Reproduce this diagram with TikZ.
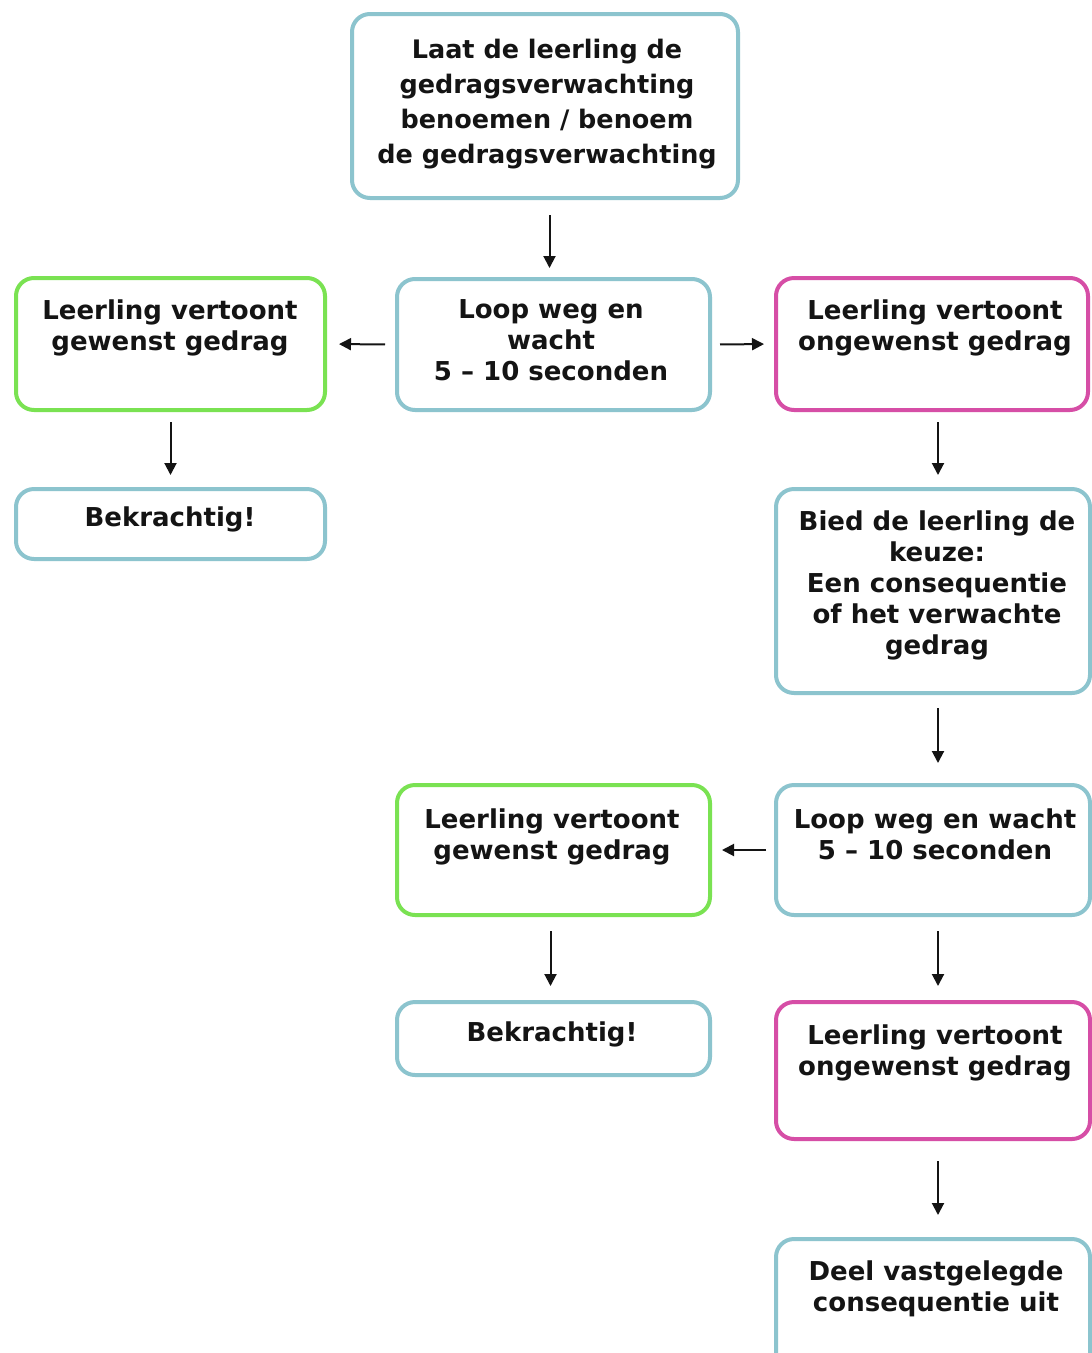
\documentclass[tikz,border=0pt]{standalone}
\usepackage{fontspec}
\setmainfont{DejaVu Sans}
\usetikzlibrary{arrows.meta}
\definecolor{tealb}{RGB}{140,196,206}
\definecolor{greenb}{RGB}{122,226,82}
\definecolor{magb}{RGB}{214,78,166}
\definecolor{ink}{RGB}{20,20,20}
\tikzset{
  box/.style={draw, rounded corners=18pt, line width=4pt, inner sep=0pt, fill=white},
  tealbox/.style={box, draw=tealb},
  greenbox/.style={box, draw=greenb},
  magbox/.style={box, draw=magb},
  txt/.style={align=center, inner sep=0pt, text=ink, font=\fontsize{26}{31}\selectfont\bfseries},
  toptxt/.style={txt, font=\fontsize{25.5}{35}\selectfont\bfseries},
  arr/.style={-{Triangle[length=12pt,width=12pt]}, line width=2pt, ink}
}
\begin{document}
\begin{tikzpicture}[x=1pt,y=-1pt]
\clip (0,0) rectangle (1092,1353);
\fill[white] (0,0) rectangle (1092,1353);
% boxes
\node[tealbox, minimum width=386, minimum height=184] (top) at (545,106) {};
\node[tealbox, minimum width=313, minimum height=131] (loopa) at (553.5,344.5) {};
\node[greenbox, minimum width=309, minimum height=132] (greena) at (170.5,344) {};
\node[magbox, minimum width=312, minimum height=132] (maga) at (932,344) {};
\node[tealbox, minimum width=309, minimum height=70] (beka) at (170.5,524) {};
\node[tealbox, minimum width=314, minimum height=204] (bied) at (933,591) {};
\node[greenbox, minimum width=313, minimum height=130] (greenb) at (553.5,850) {};
\node[tealbox, minimum width=314, minimum height=130] (loopb) at (933,850) {};
\node[tealbox, minimum width=313, minimum height=73] (bekb) at (553.5,1038.5) {};
\node[magbox, minimum width=314, minimum height=137] (magb) at (933,1070.5) {};
\node[tealbox, minimum width=314, minimum height=140] (deel) at (933,1309) {};
% texts
\node[toptxt] (toptext) at (547,104) {Laat de leerling de\\gedragsverwachting\\benoemen / benoem\\de gedragsverwachting};
\node[txt] (loopatext) at (551,340.5) {Loop weg en\\wacht\\5 -- 10 seconden};
\node[txt] (greenatext) at (170,328) {Leerling vertoont\\gewenst gedrag};
\node[txt] (magatext) at (935,328) {Leerling vertoont\\ongewenst gedrag};
\node[txt] (bekatext) at (170,519) {Bekrachtig!};
\node[txt] (biedtext) at (937,585.5) {Bied de leerling de\\keuze:\\Een consequentie\\of het verwachte\\gedrag};
\node[txt] (greenbtext) at (552,836.5) {Leerling vertoont\\gewenst gedrag};
\node[txt] (loopbtext) at (935,834) {Loop weg en wacht\\5 -- 10 seconden};
\node[txt] (bekbtext) at (552,1034) {Bekrachtig!};
\node[txt] (magbtext) at (935,1052.5) {Leerling vertoont\\ongewenst gedrag};
\node[txt] (deeltext) at (936,1288.5) {Deel vastgelegde\\consequentie uit};
% arrows
\draw[arr, shorten <=15pt, shorten >=9pt] ([xshift=-4pt]top.south -| loopa.north) -- ([xshift=-4pt]loopa.north);
\draw[arr, shorten <=10pt, shorten >=12pt] (loopa.west) -- (greena.east);
\draw[arr, shorten <=8pt, shorten >=10pt] (loopa.east) -- (maga.west);
\draw[arr, shorten <=10pt, shorten >=12pt] (greena.south) -- (beka.north);
\draw[arr, shorten <=10pt, shorten >=12pt] ([xshift=6pt]maga.south) -- ([xshift=6pt]maga.south |- bied.north);
\draw[arr, shorten <=13pt, shorten >=20pt] ([xshift=5pt]bied.south) -- ([xshift=5pt]bied.south |- loopb.north);
\draw[arr, shorten <=8pt, shorten >=10pt] (loopb.west) -- (greenb.east);
\draw[arr, shorten <=14pt, shorten >=14pt] ([xshift=-3pt]greenb.south) -- ([xshift=-3pt]greenb.south |- bekb.north);
\draw[arr, shorten <=14pt, shorten >=14pt] ([xshift=5pt]loopb.south) -- ([xshift=5pt]loopb.south |- magb.north);
\draw[arr, shorten <=20pt, shorten >=22pt] ([xshift=5pt]magb.south) -- ([xshift=5pt]magb.south |- deel.north);
\end{tikzpicture}
\end{document}
